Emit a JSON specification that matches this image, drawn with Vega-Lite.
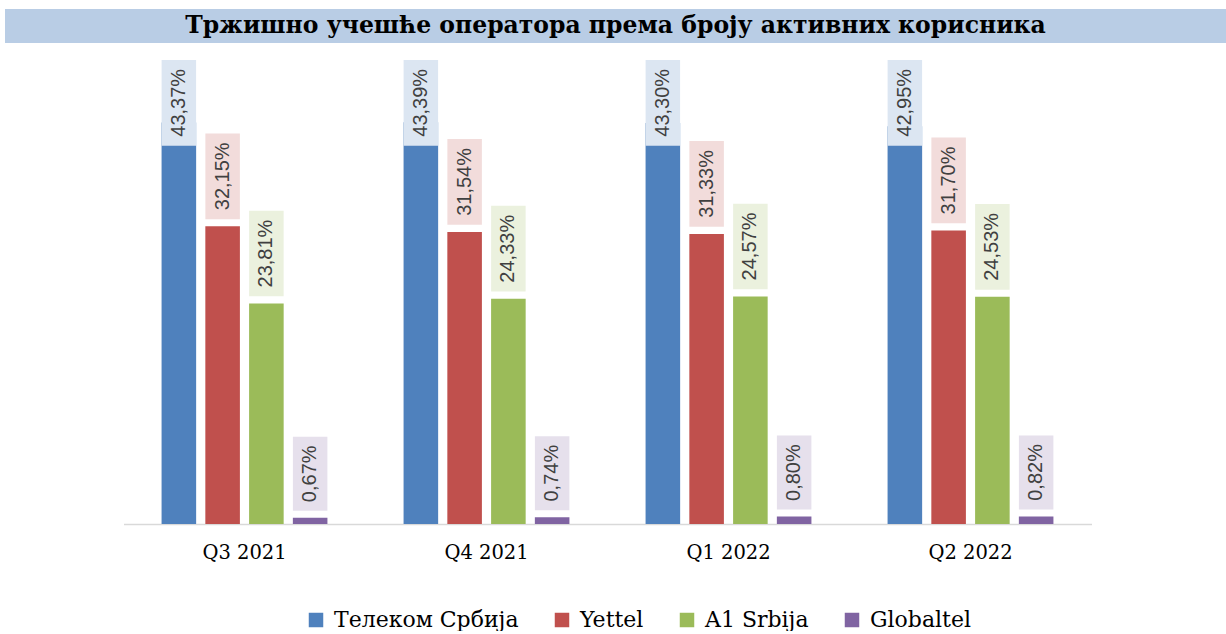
{
  "$schema": "https://vega.github.io/schema/vega-lite/v6.json",
  "background": "white",
  "padding": {"left": 5, "top": 9, "right": 0, "bottom": 0},
  "spacing": 16,
  "config": {
    "view": {"stroke": null},
    "locale": {"number": {"decimal": ",", "thousands": ".", "grouping": [3], "currency": ["", ""]}}
  },
  "vconcat": [
    {
      "width": 1221,
      "height": 34,
      "view": {"fill": "#b9cde5", "stroke": null},
      "data": {"values": [{"t": "Тржишно учешће оператора према броју активних корисника"}]},
      "mark": {"type": "text", "font": "DejaVu Serif", "fontWeight": "bold", "fontSize": 23.5, "color": "#000000", "align": "center", "baseline": "middle"},
      "encoding": {"text": {"field": "t"}}
    },
    {
      "width": 1221,
      "height": 463,
      "data": {"values": [
        {"quarter": "Q3 2021", "operator": "Телеком Србија", "share": 0.4337},
        {"quarter": "Q3 2021", "operator": "Yettel", "share": 0.3215},
        {"quarter": "Q3 2021", "operator": "A1 Srbija", "share": 0.2381},
        {"quarter": "Q3 2021", "operator": "Globaltel", "share": 0.0067},
        {"quarter": "Q4 2021", "operator": "Телеком Србија", "share": 0.4339},
        {"quarter": "Q4 2021", "operator": "Yettel", "share": 0.3154},
        {"quarter": "Q4 2021", "operator": "A1 Srbija", "share": 0.2433},
        {"quarter": "Q4 2021", "operator": "Globaltel", "share": 0.0074},
        {"quarter": "Q1 2022", "operator": "Телеком Србија", "share": 0.4330},
        {"quarter": "Q1 2022", "operator": "Yettel", "share": 0.3133},
        {"quarter": "Q1 2022", "operator": "A1 Srbija", "share": 0.2457},
        {"quarter": "Q1 2022", "operator": "Globaltel", "share": 0.0080},
        {"quarter": "Q2 2022", "operator": "Телеком Србија", "share": 0.4295},
        {"quarter": "Q2 2022", "operator": "Yettel", "share": 0.3170},
        {"quarter": "Q2 2022", "operator": "A1 Srbija", "share": 0.2453},
        {"quarter": "Q2 2022", "operator": "Globaltel", "share": 0.0082}
      ]},
      "encoding": {
        "x": {
          "field": "quarter", "type": "nominal",
          "sort": ["Q3 2021", "Q4 2021", "Q1 2022", "Q2 2022"],
          "scale": {"paddingInner": 0, "paddingOuter": 0, "range": [118.5, 1086.5]},
          "axis": {"title": null, "labelAngle": 0, "labelFont": "DejaVu Serif", "labelFontSize": 19.5, "labelColor": "#000000", "ticks": false, "domainColor": "#d9d9d9", "domainWidth": 1.5, "labelPadding": 19}
        },
        "xOffset": {
          "field": "operator", "type": "nominal",
          "sort": ["Телеком Србија", "Yettel", "A1 Srbija", "Globaltel"],
          "scale": {"paddingInner": 0.21, "paddingOuter": 0.87}
        }
      },
      "layer": [
        {
          "mark": {"type": "bar"},
          "encoding": {
            "y": {
              "field": "share", "type": "quantitative",
              "scale": {"domain": [0, 0.5]},
              "axis": null
            },
            "color": {
              "field": "operator", "type": "nominal",
              "scale": {"domain": ["Телеком Србија", "Yettel", "A1 Srbija", "Globaltel"], "range": ["#4f81bd", "#c0504d", "#9bbb59", "#8064a2"]},
              "legend": {"orient": "none", "legendX": 300, "legendY": 600, "direction": "horizontal", "title": null, "symbolType": "square", "symbolSize": 210, "symbolStrokeWidth": 0, "labelFont": "DejaVu Serif", "labelFontSize": 22, "labelColor": "#000000", "labelOffset": 7, "columnPadding": 32, "padding": 0, "labelLimit": 0}
            }
          }
        },
        {
          "transform": [{"filter": "datum.operator == 'Yettel' || datum.operator == 'A1 Srbija'"}],
          "mark": {"type": "point", "shape": "M-0.4026,-1L0.4026,-1L0.4026,1L-0.4026,1Z", "size": 7344, "filled": true, "opacity": 1, "strokeWidth": 0, "yOffset": -50},
          "encoding": {
            "y": {"field": "share", "type": "quantitative"},
            "fill": {"field": "operator", "type": "nominal", "scale": {"domain": ["Телеком Србија", "Yettel", "A1 Srbija", "Globaltel"], "range": ["#dce6f2", "#f2dcdb", "#ebf1de", "#e6e0ec"]}, "legend": null}
          }
        },
        {
          "transform": [{"filter": "datum.operator == 'Globaltel'"}],
          "mark": {"type": "point", "shape": "M-0.466,-1L0.466,-1L0.466,1L-0.466,1Z", "size": 5476, "filled": true, "opacity": 1, "strokeWidth": 0, "yOffset": -44},
          "encoding": {
            "y": {"field": "share", "type": "quantitative"},
            "fill": {"field": "operator", "type": "nominal", "legend": null}
          }
        },
        {
          "transform": [{"filter": "datum.operator == 'Телеком Србија'"}],
          "mark": {"type": "point", "shape": "M-0.4026,-1L0.4026,-1L0.4026,1L-0.4026,1Z", "size": 7344, "filled": true, "opacity": 1, "strokeWidth": 0, "yOffset": 41.8},
          "encoding": {
            "y": {"datum": 0.5, "type": "quantitative"},
            "fill": {"field": "operator", "type": "nominal", "legend": null}
          }
        },
        {
          "transform": [{"filter": "datum.operator == 'Yettel' || datum.operator == 'A1 Srbija'"}],
          "mark": {"type": "text", "angle": 270, "align": "center", "baseline": "middle", "font": "Liberation Sans", "fontSize": 20, "color": "#404040", "yOffset": -50},
          "encoding": {
            "y": {"field": "share", "type": "quantitative"},
            "text": {"field": "share", "type": "quantitative", "format": ".2%"}
          }
        },
        {
          "transform": [{"filter": "datum.operator == 'Globaltel'"}],
          "mark": {"type": "text", "angle": 270, "align": "center", "baseline": "middle", "font": "Liberation Sans", "fontSize": 20, "color": "#404040", "yOffset": -44},
          "encoding": {
            "y": {"field": "share", "type": "quantitative"},
            "text": {"field": "share", "type": "quantitative", "format": ".2%"}
          }
        },
        {
          "transform": [{"filter": "datum.operator == 'Телеком Србија'"}],
          "mark": {"type": "text", "angle": 270, "align": "center", "baseline": "middle", "font": "Liberation Sans", "fontSize": 20, "color": "#404040", "yOffset": 41.8},
          "encoding": {
            "y": {"datum": 0.5, "type": "quantitative"},
            "text": {"field": "share", "type": "quantitative", "format": ".2%"}
          }
        }
      ]
    }
  ]
}
